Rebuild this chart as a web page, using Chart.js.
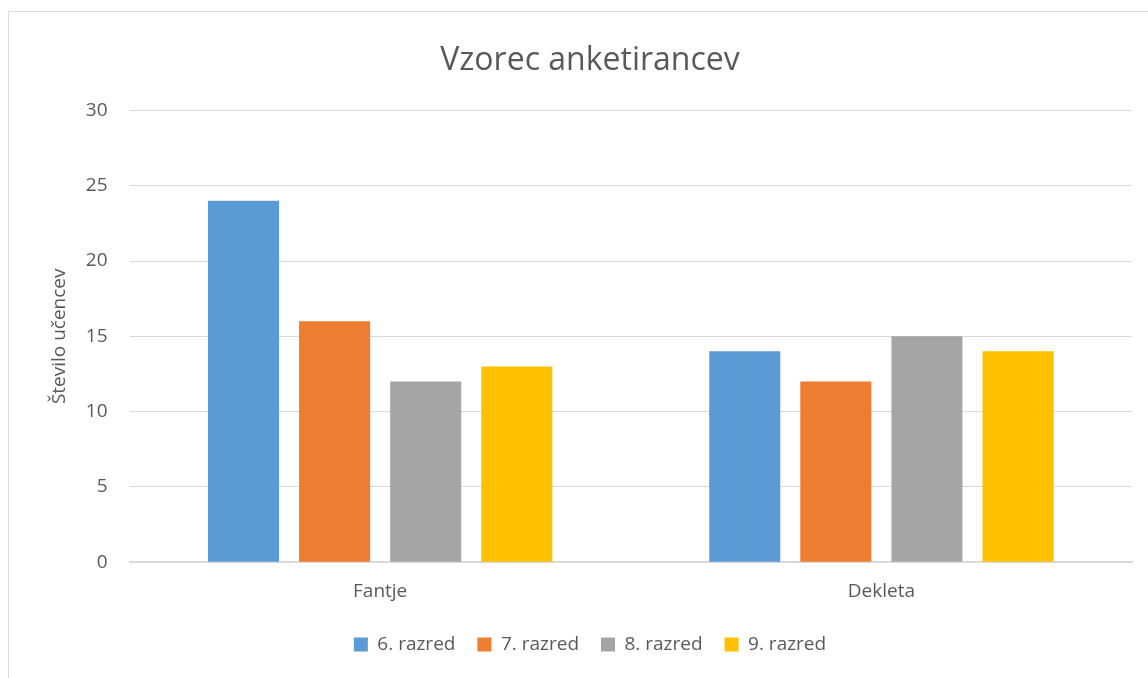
<!DOCTYPE html>
<html>
<head>
<meta charset="utf-8">
<script src="https://cdn.jsdelivr.net/npm/chart.js@4.4.1/dist/chart.umd.min.js"></script>
<style>
  body { margin: 0; background: #fff; overflow: hidden; }
  #frame { position: absolute; left: 8px; top: 11px; width: 1200px; height: 700px; border: 1px solid #D9D9D9; }
  #wrap { position: absolute; left: 0; top: 0; width: 1148px; height: 678px; }
</style>
</head>
<body>
<div id="frame"></div>
<div id="wrap"><canvas id="chart"></canvas></div>
<script>
// podatki
const categories = ['Fantje', 'Dekleta'];
const seriesNames = ['6. razred', '7. razred', '8. razred', '9. razred'];
const razred6 = [24, 14];
const razred7 = [16, 12];
const razred8 = [12, 15];
const razred9 = [13, 14];
const yTicks = [0, 5, 10, 15, 20, 25, 30];

const colors = ['#5B9BD5', '#ED7D31', '#A5A5A5', '#FFC000'];
const values = [razred6, razred7, razred8, razred9];
const font = "'Open Sans', 'Liberation Sans', sans-serif";

const ctx = document.getElementById('chart').getContext('2d');
new Chart(ctx, {
    type: 'bar',
    data: {
        labels: categories,
        datasets: seriesNames.map((name, i) => ({
            label: name,
            data: values[i],
            backgroundColor: colors[i],
            categoryPercentage: 0.727,
            barPercentage: 0.78
        }))
    },
    options: {
        responsive: true,
        maintainAspectRatio: false,
        animation: false,
        layout: { padding: { left: 48, right: 16, top: 42, bottom: 14 } },
        plugins: {
            title: {
                display: true,
                text: 'Vzorec anketirancev',
                color: '#595959',
                font: { family: font, size: 32, weight: 'normal' },
                padding: { top: 0, bottom: 30 }
            },
            legend: {
                position: 'bottom',
                labels: {
                    color: '#595959',
                    font: { family: font, size: 19 },
                    boxWidth: 14,
                    boxHeight: 14,
                    padding: 22
                }
            },
            tooltip: { enabled: false }
        },
        scales: {
            x: {
                grid: { display: false },
                border: { color: '#D9D9D9', width: 2 },
                ticks: { color: '#595959', font: { family: font, size: 19 }, padding: 10 }
            },
            y: {
                min: 0,
                max: 30,
                afterBuildTicks: axis => { axis.ticks = yTicks.map(v => ({ value: v })); },
                grid: { color: '#D9D9D9', drawTicks: false },
                border: { display: false },
                ticks: { color: '#595959', font: { family: font, size: 19 }, padding: 22 },
                title: {
                    display: true,
                    text: 'Število učencev',
                    color: '#595959',
                    font: { family: font, size: 19 },
                    padding: { top: 0, bottom: -7 }
                }
            }
        }
    }
});
</script>
</body>
</html>
